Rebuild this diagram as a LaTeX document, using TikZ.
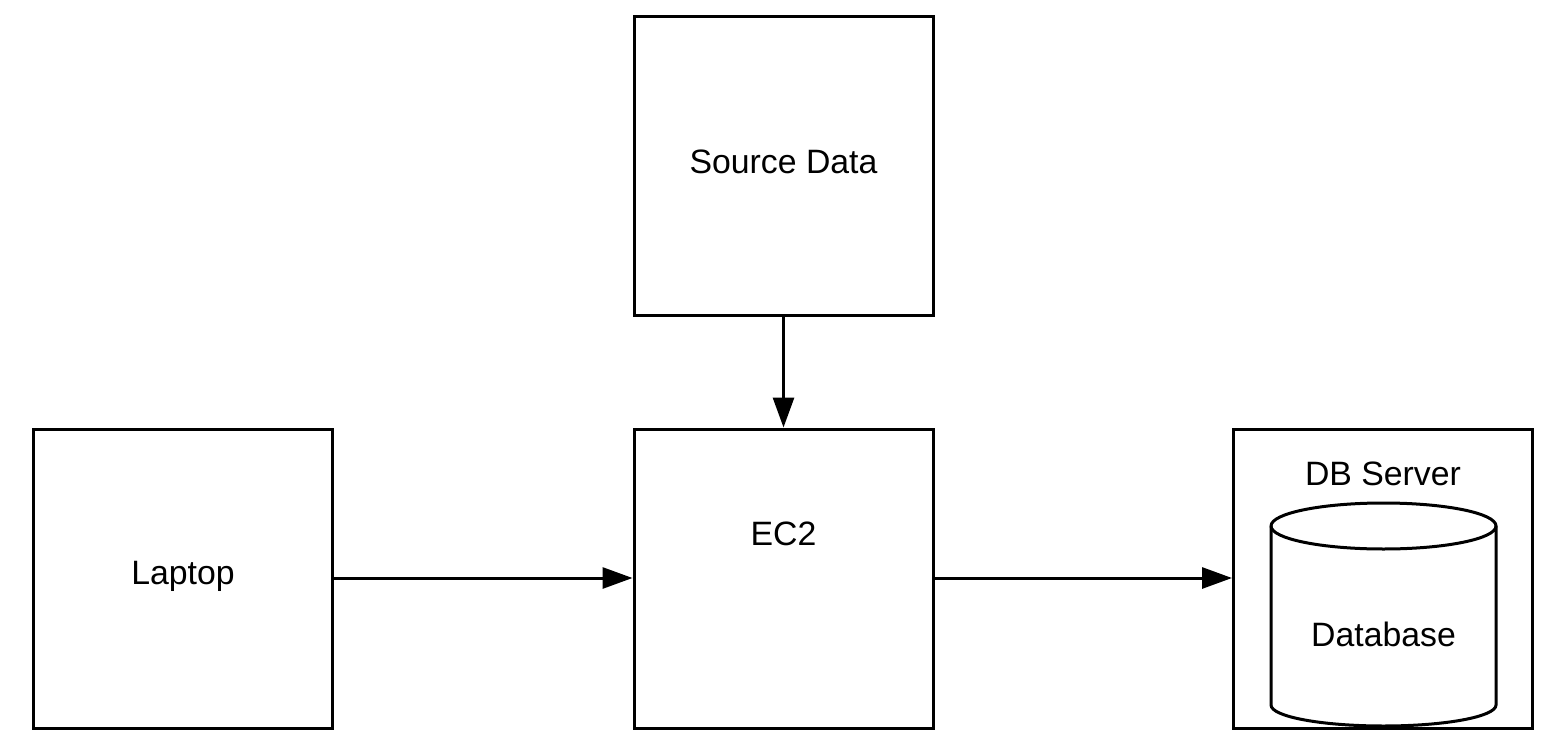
\documentclass[tikz,border=0pt]{standalone}
\usepackage{fontspec}
\setmainfont{Liberation Sans}
\usetikzlibrary{arrows.meta}
\begin{document}
\begin{tikzpicture}[x=1pt,y=-1pt,
  box/.style={draw=black,line width=3pt,minimum width=299pt,minimum height=299pt,inner sep=0pt},
  lbl/.style={font=\fontsize{33.8}{38}\selectfont,inner sep=0pt},
  conn/.style={line width=3pt,-{Triangle[length=30pt,width=21pt]}}]
\useasboundingbox[fill=white] (0,0) rectangle (1554,741);
\node[box] (src) at (783.5,166) {};
\node[box] (lap) at (183,578.5) {};
\node[box] (ec2) at (783.5,578.5) {};
\node[box] (db) at (1383,578.5) {};
\node[lbl] (tsrc) at (783.5,162) {Source Data};
\node[lbl] (tlap) at (183,576) {Laptop};
\node[lbl] (tec2) at (783.5,534) {EC2};
\node[lbl] (tdbs) at (1383,474) {DB Server};
% cylinder
\draw[line width=3pt,fill=white] (1271,526) -- (1271,705) arc[start angle=180,end angle=360,x radius=112.5pt,y radius=21pt] -- (1496,526) arc[start angle=0,end angle=180,x radius=112.5pt,y radius=23pt] -- cycle;
\draw[line width=3pt] (1271,526) arc[start angle=180,end angle=360,x radius=112.5pt,y radius=23pt];
\node[lbl] (tdb) at (1383.5,634) {Database};
\draw[conn] (src.south) -- (ec2.north);
\draw[conn] (lap.east |- 0,578) -- (ec2.west |- 0,578);
\draw[conn] (ec2.east |- 0,578) -- (db.west |- 0,578);
\end{tikzpicture}
\end{document}
